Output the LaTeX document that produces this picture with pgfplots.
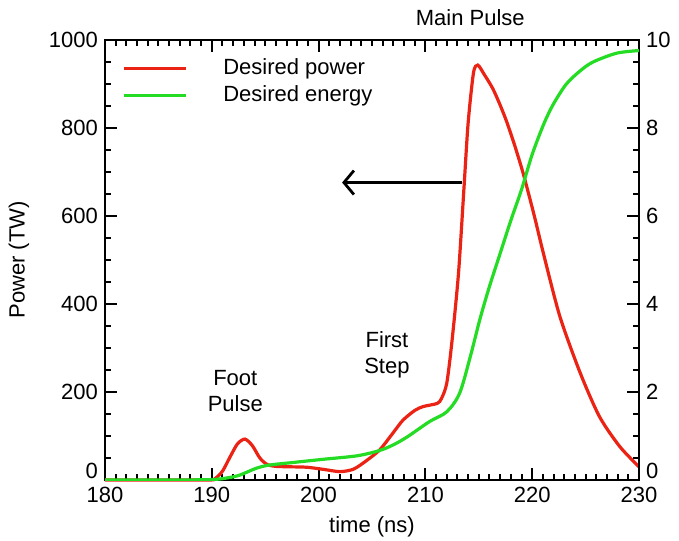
\documentclass[border=0pt]{standalone}
\usepackage{pgfplots}
\pgfplotsset{compat=1.18}
\usepackage{fontspec}
\setmainfont{Liberation Sans}
\usetikzlibrary{arrows.meta}
\definecolor{pwr}{RGB}{235,35,20}
\definecolor{nrg}{RGB}{35,220,35}

\pgfplotsset{
  base/.style={
    scale only axis, width=267pt, height=220pt,
    xmin=180, xmax=230,
    tick align=inside,
    major tick length=6pt, minor tick length=3pt,
    tick style={black, line width=1pt},
    axis line style={line width=0.9pt},
    /pgf/number format/assume math mode=true,
    tick label style={font=\fontsize{11}{13}\selectfont},
    label style={font=\fontsize{11}{13}\selectfont},
  }
}

\begin{document}
\begin{tikzpicture}
\begin{axis}[base, name=main,
  ymin=0, ymax=1000,
  xtick={180,190,...,230}, minor x tick num=9,
  ytick={0,200,...,1000}, minor y tick num=3,
  yticklabels={\raisebox{9pt}{0},200,400,600,800,1000},
  xtick pos=both, ytick pos=left,
  xlabel={time (ns)}, ylabel={Power (TW)}, ylabel shift=3pt,
  clip=false,
  legend style={draw=none, fill=none, at={(0.02,0.976)}, anchor=north west,
    font=\fontsize{11}{13}\selectfont, column sep=16pt, row sep=0pt},
  legend cell align=left,
  legend image code/.code={\draw[#1] (0pt,0pt) -- (31pt,0pt);},
]
% desired power (left axis)
\addplot[pwr, line width=1.6pt, smooth, tension=0.45] coordinates {
  (180,0)(186,0)(189.8,0)(190.3,3)(191.0,20)(191.7,52)(192.4,82)(193.1,93)
  (193.8,78)(194.5,50)(195.2,35)(196.0,31)(197.3,30)(198.9,29)(200.5,24)
  (202.0,19)(203.2,24)(204.2,39)(205.7,68)(207.0,108)(207.9,136)(209.0,158)
  (209.8,167)(211.1,174)(211.5,185)(212.0,220)(212.5,318)(213.1,470)(213.6,659)
  (214.0,811)(214.5,925)(214.9,943)(215.5,922)(216.3,890)(217.0,852)(217.6,815)
  (218.3,765)(218.9,718)(219.3,684)(220.2,600)(221.1,510)(222.6,371)(224.5,243)
  (226.3,144)(228.2,76)(230,30)
};
\addlegendentry{Desired power}
\addlegendimage{nrg, line width=1.6pt}
\addlegendentry{Desired energy}

\node[font=\fontsize{11}{13}\selectfont] at (axis cs:214.2,1050) {Main Pulse};
\node[font=\fontsize{11}{13}\selectfont, align=center] at (axis cs:192.2,202) {Foot\\Pulse};
\node[font=\fontsize{11}{13}\selectfont, align=center] at (axis cs:206.4,284) {First\\Step};
\draw[line width=1.2pt, -{Straight Barb[length=5pt,width=12pt,line width=1.4pt]}]
  (axis cs:213.4,676) -- (axis cs:202.2,676);

% inward ticks drawn along the frame as well
\pgfplotsinvokeforeach{181,...,229}{
  \draw[line width=1pt] (axis cs:#1,0) -- (axis cs:#1,7);
  \draw[line width=1pt] (axis cs:#1,1000) -- (axis cs:#1,993);
}
\pgfplotsinvokeforeach{50,100,...,950}{
  \draw[line width=1pt] (axis cs:180,#1) -- (axis cs:180.55,#1);
  \draw[line width=1pt] (axis cs:230,#1) -- (axis cs:229.45,#1);
}
\end{axis}

\begin{axis}[base,
  ymin=0, ymax=10,
  axis x line=none, axis y line*=right,
  ytick={0,2,...,10}, minor y tick num=3,
  yticklabels={\raisebox{9pt}{0},2,4,6,8,10},
  ytick pos=right,
]
% desired energy (right axis)
\addplot[nrg, line width=1.6pt, smooth, tension=0.5] coordinates {
  (180,0)(186,0)(190,0.01)(191.5,0.05)(192.6,0.11)(194.2,0.27)(195.4,0.34)
  (197.3,0.39)(200.4,0.47)(203.6,0.55)(205.7,0.67)(207,0.8)(208.3,0.98)
  (210.4,1.33)(212.0,1.55)(213.2,1.97)(214.2,2.8)(215.1,3.65)(216.0,4.4)
  (217.0,5.15)(218.0,5.9)(219.0,6.6)(220.0,7.4)(221.1,8.1)(222.0,8.55)
  (223.2,9.0)(224.5,9.3)(225.7,9.5)(227.9,9.7)(230,9.76)
};
\end{axis}

\pgfresetboundingbox
\path (main.south west) ++(-52.5pt,-30pt) rectangle ++(339.5pt,270pt);
\end{tikzpicture}
\end{document}
